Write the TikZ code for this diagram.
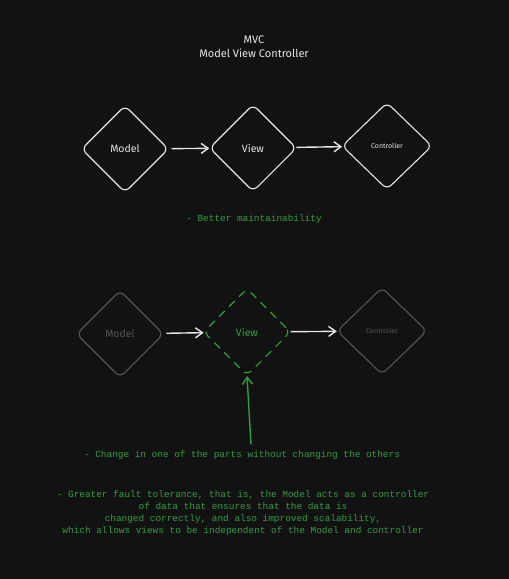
\documentclass[tikz,border=0pt]{standalone}
\usepackage{fontspec}
\setmainfont{Fira Sans}
\setmonofont{Liberation Mono}
\usetikzlibrary{shapes.geometric,arrows.meta}
\definecolor{bgdark}{HTML}{121212}
\definecolor{inkwhite}{HTML}{E6E6E6}
\definecolor{inkgray}{HTML}{555555}
\definecolor{inkgreen}{HTML}{2F9E44}
\tikzset{
  part/.style={diamond, draw=inkwhite, line width=1.1pt, rounded corners=6pt,
    minimum width=87pt, minimum height=87pt, inner sep=0pt, text=inkwhite,
    font=\fontsize{10.5}{12}\selectfont},
  faded/.style={part, draw=inkgray, text=inkgray},
  flow/.style={-{Straight Barb[length=7pt,width=10pt]}, line width=1.4pt, draw=inkwhite},
  note/.style={text=inkgreen, font=\ttfamily\fontsize{9.4}{12}\selectfont, align=center, inner sep=0pt}
}
\begin{document}
\begin{tikzpicture}[x=1pt, y=-1pt]
  \fill[bgdark] (0,0) rectangle (509,579);
  \useasboundingbox (0,0) rectangle (509,579);
  % Title
  \node[text=inkwhite, font=\fontsize{11}{14}\selectfont, align=center] (title) at (254,47) {MVC\\Model View Controller};
  % First row
  \node[part] (model) at (125,149) {Model};
  \node[part] (view) at (253,148) {View};
  \node[part, minimum width=90pt, font=\fontsize{7}{9}\selectfont] (ctrl) at (387,146) {Controller};
  \draw[flow, shorten <=3pt] (model) -- (view);
  \draw[flow] (view) -- (ctrl);
  \node[note] (maint) at (254,219) {- Better maintainability};
  % Second row
  \node[faded] (model2) at (120,334) {Model};
  \node[part, draw=inkgreen, text=inkgreen, dashed, dash pattern=on 8pt off 6pt] (view2) at (247,332) {View};
  \node[faded, minimum width=90pt, font=\fontsize{7}{9}\selectfont] (ctrl2) at (382,331) {Controller};
  \draw[flow, shorten <=3pt] (model2) -- (view2);
  \draw[flow] (view2) -- (ctrl2);
  \node[note] (change) at (242,455) {- Change in one of the parts without changing the others};
  \draw[flow, draw=inkgreen] (change.north) ++(9,-6) coordinate (c1) -- (view2.south);
  \node[note] (fault) at (243,513) {- Greater fault tolerance, that is, the Model acts as a controller\\of data that ensures that the data is\\changed correctly, and also improved scalability,\\which allows views to be independent of the Model and controller};
\end{tikzpicture}
\end{document}
